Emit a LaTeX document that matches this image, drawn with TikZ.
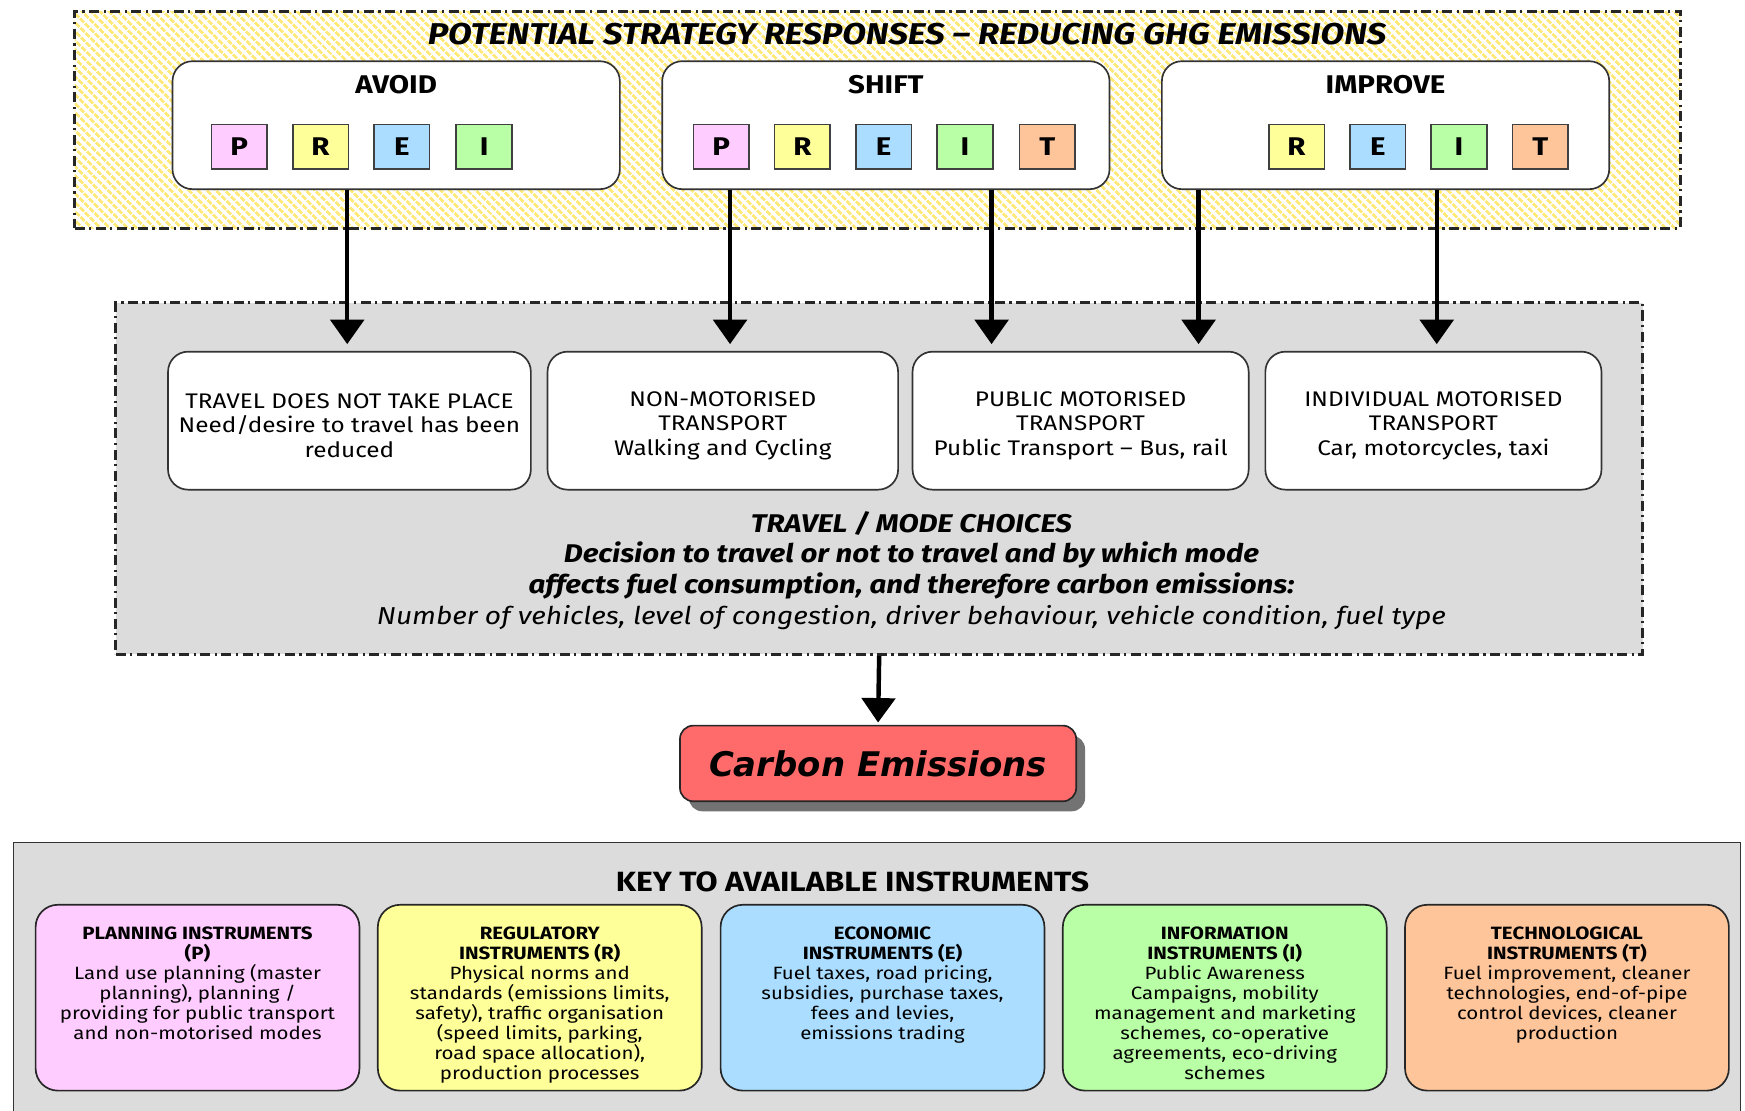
\documentclass[tikz,border=0pt]{standalone}
\usepackage{fontspec}
\setmainfont[FakeStretch=1.15]{Fira Sans}
\newfontfamily\carbonfont{DejaVu Sans}
\usetikzlibrary{arrows.meta,patterns.meta,shadows}

\definecolor{hatchyellow}{HTML}{FFE97A}
\definecolor{modegray}{HTML}{DCDCDC}
\definecolor{planpink}{HTML}{FFCCFF}
\definecolor{regyellow}{HTML}{FFFF99}
\definecolor{econblue}{HTML}{AADDFF}
\definecolor{infogreen}{HTML}{B9FFA6}
\definecolor{techorange}{HTML}{FFC59A}
\definecolor{carbonred}{HTML}{FF6B6B}

\begin{document}
\begin{tikzpicture}[x=1pt,y=-1pt]
\tikzstyle{every node}+=[inner sep=0pt]
\tikzstyle{dashdot}=[line width=2.5pt, dash pattern=on 9pt off 4pt on 2pt off 4pt]
\tikzstyle{groupbox}=[draw=black!80, line width=1.5pt, rounded corners=18pt, fill=white, minimum width=402pt, minimum height=115pt]
\tikzstyle{grouplabel}=[font=\fontsize{23}{23}\selectfont\bfseries]
\tikzstyle{letterbox}=[draw=black!75, line width=1.5pt, minimum width=50pt, minimum height=40pt, font=\fontsize{23}{23}\selectfont\bfseries]
\tikzstyle{modebox}=[draw=black!80, line width=1.5pt, rounded corners=18pt, fill=white, minimum height=124pt, align=center, font=\fontsize{19}{22}\selectfont]
\tikzstyle{keybox}=[draw=black!85, line width=1.5pt, rounded corners=20pt, minimum width=291pt, minimum height=167pt]
\tikzstyle{keytext}=[anchor=north, align=center, font=\fontsize{16}{18}\selectfont]
\tikzstyle{flow}=[line width=4pt, -{Triangle[length=22pt,width=30pt]}]
\useasboundingbox (0,0) rectangle (1568,998);

\node [dashdot, draw=black!85, minimum width=1443pt, minimum height=195pt, pattern={Lines[angle=-45,distance=6.4pt,line width=3pt]}, pattern color=hatchyellow] (strategy) at (788.5,107.5) {};
\node [font=\fontsize{27}{27}\selectfont\bfseries\itshape] (title) at (815,31) {POTENTIAL STRATEGY RESPONSES – REDUCING GHG EMISSIONS};

\node [groupbox] (avoid) at (356,112.5) {};
\node [grouplabel] (avoidlabel) at (356,76) {AVOID};
\node [letterbox, fill=planpink] (avoidP) at (215,132) {P};
\node [letterbox, fill=regyellow] (avoidR) at (288,132) {R};
\node [letterbox, fill=econblue] (avoidE) at (361,132) {E};
\node [letterbox, fill=infogreen] (avoidI) at (435,132) {I};

\node [groupbox] (shift) at (796,112.5) {};
\node [grouplabel] (shiftlabel) at (796,76) {SHIFT};
\node [letterbox, fill=planpink] (shiftP) at (648,132) {P};
\node [letterbox, fill=regyellow] (shiftR) at (721,132) {R};
\node [letterbox, fill=econblue] (shiftE) at (794,132) {E};
\node [letterbox, fill=infogreen] (shiftI) at (867,132) {I};
\node [letterbox, fill=techorange] (shiftT) at (941,132) {T};

\node [groupbox] (improve) at (1245,112.5) {};
\node [grouplabel] (improvelabel) at (1245,76) {IMPROVE};
\node [letterbox, fill=regyellow] (improveR) at (1165,132) {R};
\node [letterbox, fill=econblue] (improveE) at (1238,132) {E};
\node [letterbox, fill=infogreen] (improveI) at (1311,132) {I};
\node [letterbox, fill=techorange] (improveT) at (1384,132) {T};

\node [dashdot, draw=black!85, fill=modegray, minimum width=1372pt, minimum height=316pt] (modes) at (790,430) {};
\node [modebox, minimum width=326pt] (notravel) at (314,378) {\rule{0pt}{22pt}TRAVEL DOES NOT TAKE PLACE\\Need/desire to travel has been\\reduced};
\node [modebox, minimum width=315pt] (nonmotor) at (649.5,378) {\rule{0pt}{22pt}NON-MOTORISED\\TRANSPORT\\Walking and Cycling};
\node [modebox, minimum width=302pt] (publicmt) at (971,378) {\rule{0pt}{22pt}PUBLIC MOTORISED\\TRANSPORT\\Public Transport – Bus, rail};
\node [modebox, minimum width=302pt] (indivmt) at (1288,378) {\rule{0pt}{22pt}INDIVIDUAL MOTORISED\\TRANSPORT\\Car, motorcycles, taxi};
\node [align=center, font=\fontsize{23}{27.6}\selectfont\itshape] (choices) at (819,512.5) {\bfseries TRAVEL / MODE CHOICES\\\bfseries Decision to travel or not to travel and by which mode\\\bfseries affects fuel consumption, and therefore carbon emissions:\\\fontsize{22}{27.6}\selectfont Number of vehicles, level of congestion, driver behaviour, vehicle condition, fuel type};

\coordinate (in1) at ([xshift=-2pt,yshift=6pt]notravel.north);
\coordinate (in2) at ([xshift=6.5pt,yshift=6pt]nonmotor.north);
\coordinate (in3) at ([xshift=-80pt,yshift=6pt]publicmt.north);
\coordinate (in4) at ([xshift=106pt,yshift=6pt]publicmt.north);
\coordinate (in5) at ([xshift=3pt,yshift=6pt]indivmt.north);
\draw [flow] (in1 |- avoid.south) -- (in1);
\draw [flow] (in2 |- shift.south) -- (in2);
\draw [flow] (in3 |- shift.south) -- (in3);
\draw [flow] (in4 |- improve.south) -- (in4);
\draw [flow] (in5 |- improve.south) -- (in5);

\node [draw=black!85, line width=1.5pt, fill=carbonred, rounded corners=12pt, minimum width=356pt, minimum height=68pt, drop shadow={shadow xshift=8pt, shadow yshift=-9pt, opacity=0.55, fill=black}, font=\carbonfont\bfseries\itshape\fontsize{30.5}{30.5}\selectfont] (carbon) at (789,686) {Carbon Emissions};
\draw [flow] (modes.south) -- ([yshift=2pt]carbon.north);

\node [draw=black!80, line width=1.5pt, fill=modegray, minimum width=1552pt, minimum height=263pt] (key) at (788,888.5) {};
\node [font=\fontsize{25}{25}\selectfont\bfseries] (keytitle) at (766,792) {KEY TO AVAILABLE INSTRUMENTS};

\node [keybox, fill=planpink] (planning) at (177.5,896.5) {};
\node [keytext] (planningtext) at ([yshift=-20pt]planning.north) {\bfseries PLANNING INSTRUMENTS\\\bfseries (P)\\Land use planning (master\\planning), planning /\\providing for public transport\\and non-motorised modes};
\node [keybox, fill=regyellow] (regulatory) at (485,896.5) {};
\node [keytext] (regulatorytext) at ([yshift=-20pt]regulatory.north) {\bfseries REGULATORY\\\bfseries INSTRUMENTS (R)\\Physical norms and\\standards (emissions limits,\\safety), traffic organisation\\(speed limits, parking,\\road space allocation),\\production processes};
\node [keybox, fill=econblue] (economic) at (793,896.5) {};
\node [keytext] (economictext) at ([yshift=-20pt]economic.north) {\bfseries ECONOMIC\\\bfseries INSTRUMENTS (E)\\Fuel taxes, road pricing,\\subsidies, purchase taxes,\\fees and levies,\\emissions trading};
\node [keybox, fill=infogreen] (information) at (1100.5,896.5) {};
\node [keytext] (informationtext) at ([yshift=-20pt]information.north) {\bfseries INFORMATION\\\bfseries INSTRUMENTS (I)\\Public Awareness\\Campaigns, mobility\\management and marketing\\schemes, co-operative\\agreements, eco-driving\\schemes};
\node [keybox, fill=techorange] (technological) at (1408,896.5) {};
\node [keytext] (technologicaltext) at ([yshift=-20pt]technological.north) {\bfseries TECHNOLOGICAL\\\bfseries INSTRUMENTS (T)\\Fuel improvement, cleaner\\technologies, end-of-pipe\\control devices, cleaner\\production};
\end{tikzpicture}
\end{document}
